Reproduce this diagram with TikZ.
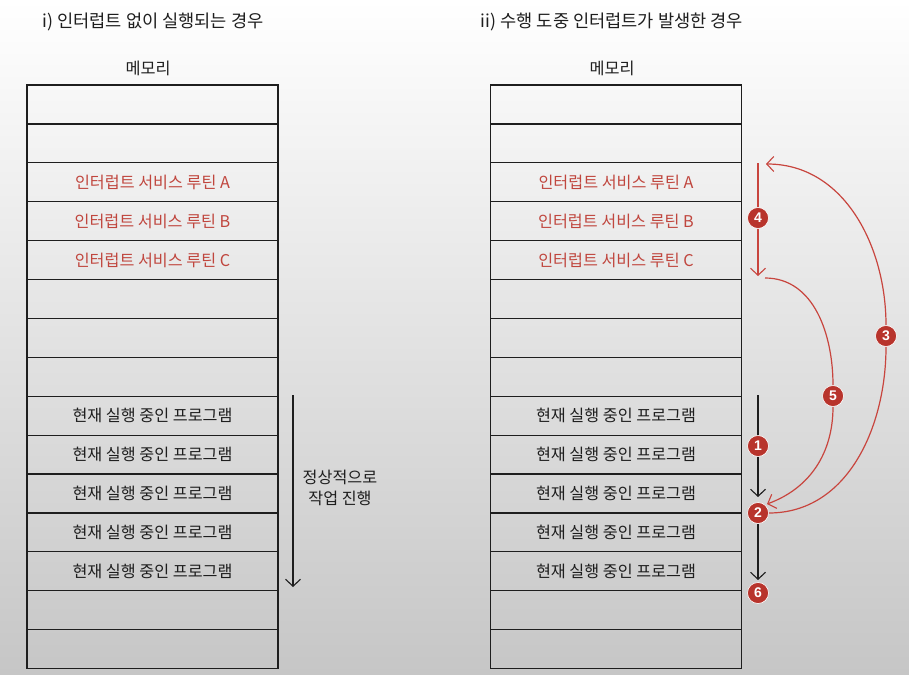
\documentclass[tikz,border=0pt]{standalone}
\usepackage{fontspec}
\setmainfont{Noto Sans CJK KR}
\newfontfamily\numfont{Liberation Sans}
\usetikzlibrary{arrows.meta}
\definecolor{rtext}{HTML}{C0463E}
\definecolor{rbadge}{HTML}{B8342C}
\definecolor{rline}{HTML}{C8453E}
\definecolor{ink}{HTML}{1E1E1E}
\definecolor{bgbot}{HTML}{C6C6C6}
\begin{document}
\begin{tikzpicture}[x=1pt,y=-1pt,
  rowbox/.style={draw=ink, line width=1.2pt, minimum width=251pt, minimum height=38.9pt, inner sep=0pt, font=\fontsize{16.2}{19}\selectfont},
  titletxt/.style={font=\fontsize{17.6}{21}\selectfont, text=ink, inner sep=0pt},
  memtxt/.style={font=\fontsize{16.3}{19}\selectfont, text=ink, inner sep=0pt},
  badge/.style={circle, fill=rbadge, draw=white, line width=0.6pt, text=white, minimum size=21pt, inner sep=0pt, font=\numfont\bfseries\fontsize{14}{14}\selectfont},
  tip/.style={-{Straight Barb[length=7pt,width=15pt,line width=1.1pt]}},
  blackarrow/.style={draw=ink, line width=1.2pt, tip},
  redarrow/.style={draw=rline, line width=1.2pt, tip},
  redline/.style={draw=rline, line width=1.2pt}
]
\fill[top color=white, middle color=white, bottom color=bgbot] (0,0) rectangle (909,674);
\useasboundingbox (0,0) rectangle (909,674);

% titles
\node[titletxt] (t1) at (153,22) {i) 인터럽트 없이 실행되는 경우};
\node[titletxt] (t2) at (612,22) {ii) 수행 도중 인터럽트가 발생한 경우};
\node[memtxt] (m1) at (148,68) {메모리};
\node[memtxt] (m2) at (612,68) {메모리};

% tables
\foreach \i/\t/\c in {0//ink,1//ink,2/인터럽트 서비스 루틴 A/rtext,3/인터럽트 서비스 루틴 B/rtext,4/인터럽트 서비스 루틴 C/rtext,5//ink,6//ink,7//ink,8/현재 실행 중인 프로그램/ink,9/현재 실행 중인 프로그램/ink,10/현재 실행 중인 프로그램/ink,11/현재 실행 중인 프로그램/ink,12/현재 실행 중인 프로그램/ink,13//ink,14//ink}{
  \node[rowbox, text=\c] (L\i) at (152.5,{85+38.9*(\i+0.5)}) {\t};
  \node[rowbox, text=\c] (R\i) at (616,{85+38.9*(\i+0.5)}) {\t};
}

% left arrow
\coordinate (ls) at (293,395);
\coordinate (le) at (293,587);
\draw[blackarrow] (ls) -- (le);
\node[font=\fontsize{16.2}{21}\selectfont, text=ink, align=center, inner sep=0pt] (lt) at (340,488) {정상적으로\\작업 진행};

% right side
\coordinate (s1) at (758,395);
\coordinate (e1) at (758,497);
\coordinate (e6) at (758,580);
\coordinate (s4) at (758,163);
\coordinate (e4) at (758,276);
\coordinate (t3) at (766,164);
\coordinate (s5) at (765,278);
\coordinate (t5) at (767,504);

\draw[blackarrow] (s1) -- (e1);
\draw[redarrow] (s4) -- (e4);

\node[badge] (b1) at (758,446) {1};
\node[badge] (b2) at (758,513) {2};
\node[badge] (b3) at (886,336) {3};
\node[badge] (b4) at (758,218) {4};
\node[badge] (b5) at (833,396) {5};
\node[badge] (b6) at (758,593) {6};

\draw[blackarrow] (b2.south) -- (e6);
\draw[redline] (b2.east) to[out=0,in=-90] (b3.south);
\draw[redarrow] (b3.north) to[out=90,in=0] (t3);
\draw[redline] (s5) to[out=0,in=90] (b5.north);
\draw[redarrow] (b5.south) to[out=-90,in=20] (t5);
\end{tikzpicture}
\end{document}
